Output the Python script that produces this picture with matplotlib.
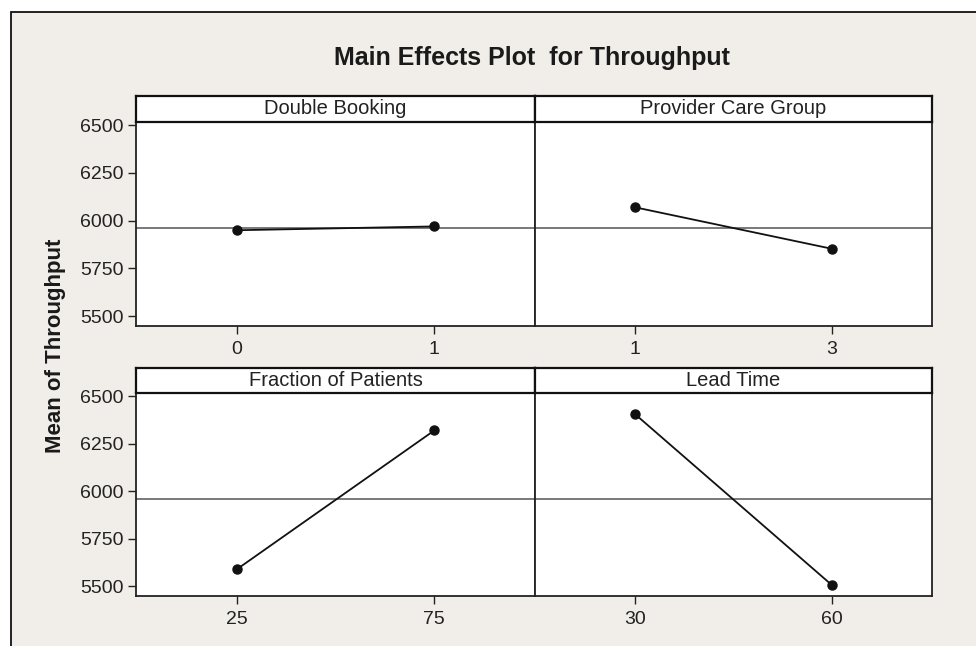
import matplotlib.pyplot as plt
from matplotlib.patches import Rectangle

plt.rcParams['font.family'] = ['Liberation Sans', 'DejaVu Sans']

factors = ['Double Booking', 'Provider Care Group', 'Fraction of Patients', 'Lead Time']
levels = [['0', '1'], ['1', '3'], ['25', '75'], ['30', '60']]
means = [[5950, 5970], [6070, 5853], [5590, 6320], [6405, 5508]]
grand_mean = 5960
yticks = [5500, 5750, 6000, 6250, 6500]

W, H = 976, 646
fig = plt.figure(figsize=(W / 100, H / 100), dpi=100, facecolor='white')

# light panel behind everything, open on the right and bottom
fig.patches.append(Rectangle((10.5 / W, -0.2), 1.2, 1.2 - 11.5 / H,
                             transform=fig.transFigure, facecolor='#f1eee9',
                             edgecolor='#111111', linewidth=1.3, zorder=-10))

def px_box(x0, y0, x1, y1):
    return [x0 / W, 1 - y1 / H, (x1 - x0) / W, (y1 - y0) / H]

cols = [(136, 535), (535, 932)]
rows = [((95.5, 122), (122, 325.7)), ((367.5, 393), (393, 596))]

for i, name in enumerate(factors):
    r, c = divmod(i, 2)
    (s0, s1), (d0, d1) = rows[r]
    x0, x1 = cols[c]

    ax = fig.add_axes(px_box(x0, d0, x1, d1))
    ax.set_facecolor('white')
    ax.axhline(grand_mean, color='#555555', linewidth=1.1, zorder=1)
    ax.plot([0, 1], means[i], color='#111111', linewidth=1.3,
            marker='o', markersize=6.5, zorder=3)
    ax.set_xlim(-0.51, 1.51)
    ax.set_ylim(5450, 6517)
    ax.set_xticks([0, 1])
    ax.set_xticklabels(levels[i])
    ax.set_yticks(yticks)
    if c == 0:
        ax.set_yticklabels([str(v) for v in yticks])
    else:
        ax.tick_params(axis='y', left=False, labelleft=False)
    ax.tick_params(direction='out', length=6, width=1.0, color='#222222',
                   labelsize=14, labelcolor='#222222', pad=3)
    ax.tick_params(axis='x', pad=5)
    for sp in ax.spines.values():
        sp.set_linewidth(1.3)
        sp.set_color('#222222')

    sax = fig.add_axes(px_box(x0, s0, x1, s1))
    sax.set_facecolor('white')
    sax.set_xticks([])
    sax.set_yticks([])
    for sp in sax.spines.values():
        sp.set_linewidth(1.6)
        sp.set_color('#111111')
    sax.text(0.5, 0.5, name, ha='center', va='center', fontsize=14.5,
             color='#222222', transform=sax.transAxes)

fig.text(532 / W, 1 - 58 / H, 'Main Effects Plot  for Throughput', ha='center',
         va='center', fontsize=18, fontweight='bold', color='#1a1a1a')
fig.text(55 / W, 1 - 346 / H, 'Mean of Throughput', ha='center', va='center',
         rotation=90, fontsize=16, fontweight='bold', color='#1a1a1a')

fig.savefig('out.png', dpi=100, facecolor=fig.get_facecolor())
